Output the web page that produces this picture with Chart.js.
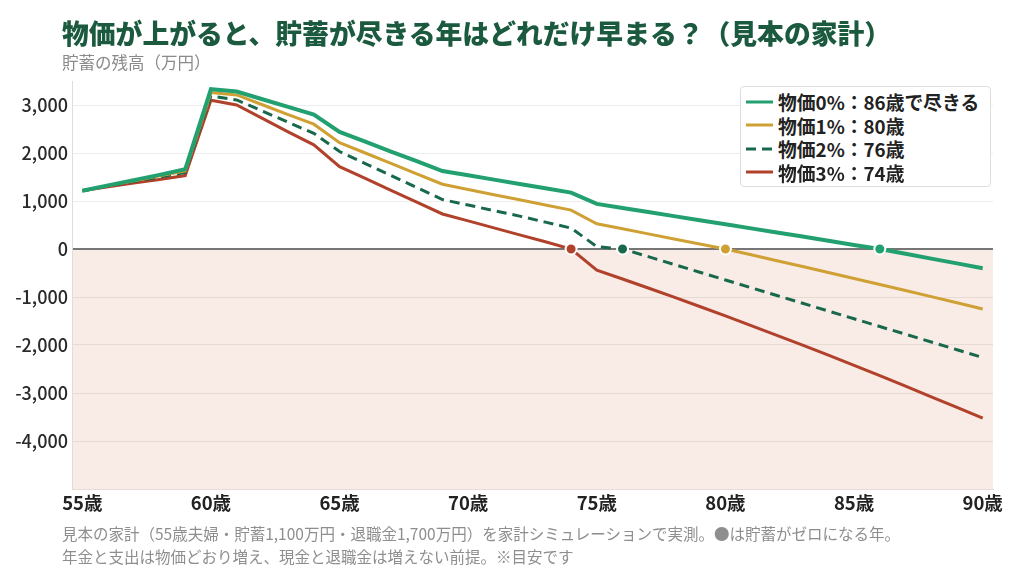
<!DOCTYPE html>
<html lang="ja">
<head>
<meta charset="utf-8">
<script src="https://cdn.jsdelivr.net/npm/chart.js@4.4.1/dist/chart.umd.min.js"></script>
<style>
  html, body { margin: 0; padding: 0; background: #ffffff; }
  body { width: 1024px; height: 576px; overflow: hidden; position: relative;
         font-family: "Noto Sans CJK JP", "Noto Sans", sans-serif; }
  #wrap { position: absolute; left: 0; top: 0; width: 1024px; height: 576px; }
  #title { position: absolute; left: 62px; top: 13px; font-size: 26.8px; font-weight: 900;
           color: #1b5a3e; white-space: nowrap; line-height: 40px; }
  #subtitle { position: absolute; left: 62px; top: 50px; font-size: 16.5px; color: #8a8a8a;
              white-space: nowrap; line-height: 24px; }
  #note { position: absolute; left: 62px; top: 522px; font-size: 15.5px; color: #8e8e8e;
          line-height: 23px; white-space: nowrap; }
  #legend { position: absolute; left: 740px; top: 86px; width: 251px; height: 101px;
            box-sizing: border-box; background: #ffffff; border: 1px solid #dedede;
            border-radius: 4px; padding: 3px 0 0 5px; }
  .item { display: flex; align-items: center; height: 23.5px; font-size: 18.8px; font-weight: 600;
          color: #222; white-space: nowrap; }
  .item svg { width: 27px; height: 6px; margin-right: 5px; flex: none; }
</style>
</head>
<body>
<div id="wrap"><canvas id="c" width="1024" height="576"></canvas></div>
<div id="title">物価が上がると、貯蓄が尽きる年はどれだけ早まる？（見本の家計）</div>
<div id="subtitle">貯蓄の残高（万円）</div>
<div id="legend"></div>
<div id="note">見本の家計（55歳夫婦・貯蓄1,100万円・退職金1,700万円）を家計シミュレーションで実測。●は貯蓄がゼロになる年。<br>年金と支出は物価どおり増え、現金と退職金は増えない前提。※目安です</div>
<script>
// ---- data ----
const ages = [55,56,57,58,59,60,61,62,63,64,65,66,67,68,69,70,71,72,73,74,75,76,77,78,79,80,81,82,83,84,85,86,87,88,89,90];
const xTicks = [55,60,65,70,75,80,85,90];
const yTicks = [3000,2000,1000,0,-1000,-2000,-3000,-4000];
const seriesLabels = ["物価0%：86歳で尽きる","物価1%：80歳","物価2%：76歳","物価3%：74歳"];
const inflation0 = [1215,1325,1435,1545,1660,3330,3280,3120,2960,2800,2440,2235,2030,1830,1625,1535,1445,1355,1265,1175,940,855,770,685,600,515,430,345,260,170,85,0,-100,-200,-300,-400];
const inflation1 = [1215,1320,1420,1525,1625,3260,3210,3005,2800,2600,2215,2000,1785,1565,1350,1240,1130,1025,915,810,525,420,315,210,105,0,-120,-243,-366,-490,-615,-740,-866,-993,-1120,-1250];
const inflation2 = [1215,1310,1405,1500,1595,3190,3105,2875,2640,2410,2030,1780,1530,1280,1030,915,800,685,560,435,50,0,-160,-322,-484,-645,-807,-968,-1130,-1292,-1453,-1615,-1776,-1937,-2099,-2260];
const inflation3 = [1215,1295,1375,1450,1530,3100,3000,2720,2440,2170,1715,1470,1220,975,730,585,440,295,150,0,-440,-625,-813,-1004,-1198,-1395,-1595,-1798,-2004,-2213,-2425,-2640,-2858,-3079,-3300,-3525];

// ---- styles ----
const colors = ["#22a06f", "#cfa033", "#18694b", "#b1412b"];
const widths = [4, 3, 3, 3];
const dashes = [[], [], [10, 6], []];
const allSeries = [inflation0, inflation1, inflation2, inflation3];

Chart.defaults.font.family = "'Noto Sans CJK JP', 'Noto Sans', sans-serif";

const datasets = allSeries.map((vals, k) => ({
  label: seriesLabels[k],
  data: ages.map((a, i) => ({ x: a, y: vals[i] })),
  borderColor: colors[k],
  backgroundColor: colors[k],
  borderWidth: widths[k],
  borderDash: dashes[k],
  fill: false,
  tension: 0,
  pointRadius: ctx => (ctx.raw && ctx.raw.y === 0 ? 5.5 : 0),
  pointHoverRadius: 0,
  pointBackgroundColor: colors[k],
  pointBorderColor: "#ffffff",
  pointBorderWidth: 2
}));

const negFill = {
  id: "negFill",
  beforeDraw(chart) {
    const { ctx, chartArea, scales } = chart;
    const y0 = scales.y.getPixelForValue(0);
    ctx.save();
    ctx.fillStyle = "#f9ebe6";
    ctx.fillRect(chartArea.left, y0, chartArea.right - chartArea.left, chartArea.bottom - y0);
    ctx.restore();
  }
};

new Chart(document.getElementById("c"), {
  type: "line",
  data: { datasets },
  plugins: [negFill],
  options: {
    responsive: false,
    animation: false,
    events: [],
    layout: { padding: { left: 0, right: 31, top: 81, bottom: 57 } },
    plugins: { legend: { display: false }, tooltip: { enabled: false }, title: { display: false } },
    scales: {
      x: {
        type: "linear",
        min: 54.6,
        max: 90.4,
        afterBuildTicks: s => { s.ticks = xTicks.map(v => ({ value: v })); },
        afterFit: s => { s.height = 30; },
        grid: { display: false, drawTicks: false },
        border: { display: true, color: "#e8dcd8", width: 1 },
        ticks: {
          padding: 3,
          maxRotation: 0,
          autoSkip: false,
          color: "#222",
          font: { size: 18.5, weight: "600" },
          callback: v => v + "歳"
        }
      },
      y: {
        min: -5000,
        max: 3500,
        afterBuildTicks: s => { s.ticks = yTicks.map(v => ({ value: v })); },
        afterFit: s => { s.width = 72; },
        grid: {
          drawTicks: false,
          color: c => (c.tick && c.tick.value === 0 ? "#767676" : "rgba(0,0,0,0.07)"),
          lineWidth: c => (c.tick && c.tick.value === 0 ? 2 : 1)
        },
        border: { display: true, color: "#dddddd", width: 1 },
        ticks: {
          padding: 4,
          color: "#2a2a2a",
          font: { size: 18, weight: "500" },
          callback: v => v.toLocaleString("en-US")
        }
      }
    }
  }
});

// ---- HTML legend built from the datasets ----
const legend = document.getElementById("legend");
datasets.forEach(ds => {
  const item = document.createElement("div");
  item.className = "item";
  const dash = ds.borderDash.length ? `stroke-dasharray="${ds.borderDash.join(' ')}"` : "";
  item.innerHTML = `<svg viewBox="0 0 27 6"><line x1="0" y1="3" x2="27" y2="3" stroke="${ds.borderColor}" stroke-width="3" ${dash}/></svg><span>${ds.label}</span>`;
  legend.appendChild(item);
});
</script>
</body>
</html>
